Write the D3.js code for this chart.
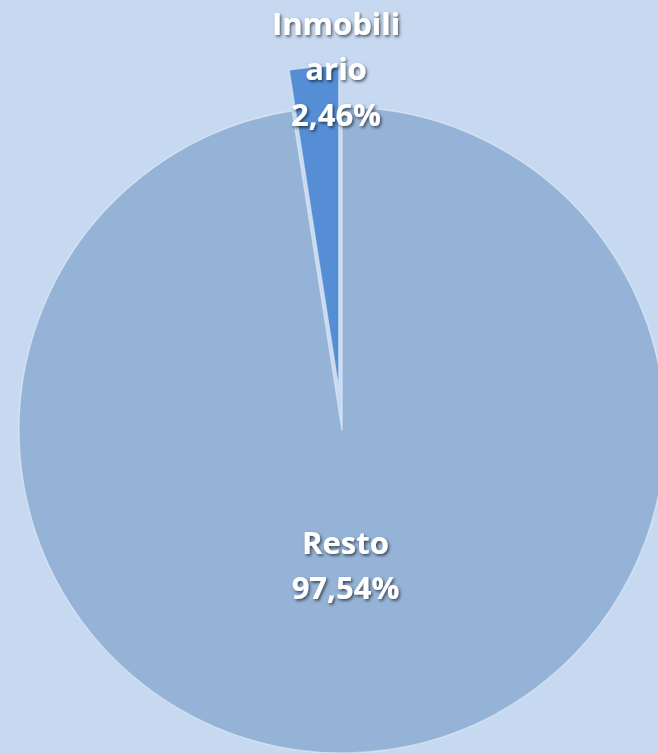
<!DOCTYPE html>
<html>
<head>
<meta charset="utf-8">
<script src="https://cdn.jsdelivr.net/npm/d3@7"></script>
<style>
  html, body { margin: 0; padding: 0; background: #c6d9f1; }
  svg { display: block; }
  .lbl { font-family: "Open Sans", Lato, sans-serif; font-weight: 700; fill: #ffffff; }
</style>
</head>
<body>
<div id="chart"></div>
<script>
// data
var categories = ["Resto", "Inmobiliario"];
var values = [97.54, 2.46];
var labelLines = [["Resto", "97,54%"], ["Inmobili", "ario", "2,46%"]];
var sliceColors = ["#95b3d7", "#558ed5"];
var explode = [0, 41]; // pixels the slice is pulled out

var svgWidth = 658;
var svgHeight = 753;

var cx = 342, cy = 430, radius = 323;

var svg = d3.select("#chart")
    .append("svg")
    .attr("width", svgWidth)
    .attr("height", svgHeight);

svg.append("rect")
    .attr("width", svgWidth)
    .attr("height", svgHeight)
    .attr("fill", "#c6d9f1");

// drop shadow for the labels
var defs = svg.append("defs");
defs.append("filter")
    .attr("id", "shadow")
    .attr("x", "-20%").attr("y", "-20%")
    .attr("width", "140%").attr("height", "140%")
  .append("feDropShadow")
    .attr("dx", 1.5).attr("dy", 1.8)
    .attr("stdDeviation", 1.4)
    .attr("flood-color", "#000")
    .attr("flood-opacity", 0.6);

var pie = d3.pie().sort(null).value(d => d)
    .startAngle(0).endAngle(2 * Math.PI);

var arcs = pie(values);

var arc = d3.arc().innerRadius(0).outerRadius(radius);

var chartGroup = svg.append("g")
    .attr("transform", `translate(${cx}, ${cy})`);

function offset(d, i) {
  var a = (d.startAngle + d.endAngle) / 2;
  return [explode[i] * Math.sin(a), -explode[i] * Math.cos(a)];
}

chartGroup.selectAll("path")
    .data(arcs)
    .enter()
    .append("path")
    .attr("transform", (d, i) => { var o = offset(d, i); return `translate(${o[0]}, ${o[1]})`; })
    .attr("d", arc)
    .attr("fill", (d, i) => sliceColors[i])
    .attr("stroke", "#e4ecf7")
    .attr("stroke-opacity", 0.6)
    .attr("stroke-width", 1.5)
    .attr("stroke-linejoin", "round");

// label positions: distance from centre (fraction of radius) and a small sideways nudge
var labelRadius = [0.42, 1.12];
var labelNudge = [-7, 22];
var lineHeight = 45.5;

arcs.forEach(function(d, i) {
  var a = (d.startAngle + d.endAngle) / 2;
  var lx = labelRadius[i] * radius * Math.sin(a) + labelNudge[i];
  var ly = -labelRadius[i] * radius * Math.cos(a);
  var lines = labelLines[i];
  var t = chartGroup.append("text")
      .attr("class", "lbl")
      .attr("text-anchor", "middle")
      .attr("font-size", "31px")
      .attr("filter", "url(#shadow)")
      .attr("x", lx)
      .attr("y", ly - (lines.length - 1) * lineHeight / 2 + 11);
  lines.forEach(function(s, j) {
    t.append("tspan")
      .attr("x", lx)
      .attr("dy", j === 0 ? 0 : lineHeight)
      .text(s);
  });
});
</script>
</body>
</html>
